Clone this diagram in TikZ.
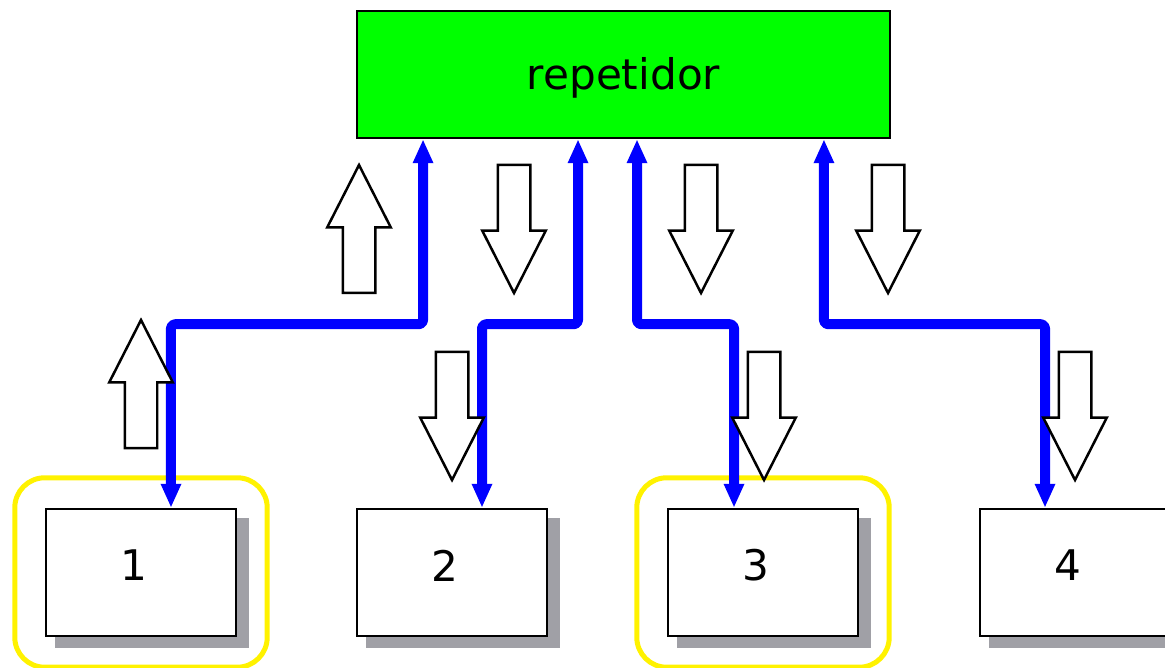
\documentclass[tikz,border=0pt]{standalone}
\usepackage{fontspec}
\setmainfont{DejaVu Sans}
\usetikzlibrary{arrows.meta,shapes.arrows,shadows,fit}
\definecolor{shadowgray}{RGB}{160,160,166}

\begin{document}
\begin{tikzpicture}[x=0.02cm, y=-0.02cm,
    every node/.style={font=\fontsize{24}{28}\selectfont},
    repbox/.style={draw, line width=0.05cm, fill=green, inner sep=0,
        minimum width=10.66cm, minimum height=2.54cm},
    station/.style={draw, line width=0.05cm, fill=white, inner sep=0,
        minimum width=3.8cm, minimum height=2.54cm,
        drop shadow={shadow xshift=0.21cm, shadow yshift=-0.21cm,
            shadow scale=1.02, fill=shadowgray, opacity=1}},
    numlbl/.style={xshift=-0.14cm, yshift=0.14cm},
    halo/.style={draw=yellow, line width=0.1cm, rounded corners=0.6cm, inner sep=0.6cm},
    link/.style={blue, line width=0.2cm, rounded corners=0.08cm, line join=round,
        <->, >={Triangle[length=0.48cm, width=0.38cm]}},
    flowup/.style={single arrow, draw, fill=white, line width=0.05cm,
        inner sep=0.3cm, outer sep=0, anchor=tail,
        minimum height=2.56cm, minimum width=1.22cm,
        single arrow head extend=0.31cm, single arrow tip angle=54,
        shape border rotate=90},
    flowdown/.style={flowup, shape border rotate=270}]
\useasboundingbox (0,0) rectangle (1165,668);

    % Repeater and stations
    \node[repbox] (rep) at (623.5,74.5) {\rule{0pt}{22pt}repetidor};
    \node[station, label={[numlbl]center:1}] (n1) at (141,572.5) {};
    \node[station, label={[numlbl]center:2}] (n2) at (452,572.5) {};
    \node[station, label={[numlbl]center:3}] (n3) at (763,572.5) {};
    \node[station, label={[numlbl]center:4}] (n4) at (1075,572.5) {};

    % Highlight rings
    \node[halo, fit=(n1)] (h1) {};
    \node[halo, fit=(n3)] (h3) {};

    % Links between repeater and stations
    \draw[link] ([xshift=-4.01cm]rep.south) -- ++(0,185) -| ([xshift=0.6cm]n1.north);
    \draw[link] ([xshift=-0.91cm]rep.south) -- ++(0,185) -| ([xshift=0.6cm]n2.north);
    \draw[link] ([xshift=0.27cm]rep.south) -- ++(0,185) -| ([xshift=-0.58cm]n3.north);
    \draw[link] ([xshift=4.01cm]rep.south) -- ++(0,185) -| ([xshift=-0.6cm]n4.north);

    % Direction of the traffic (placed by their tails)
    \node[flowup] (up1) at (359,293) {};
    \node[flowup] (up2) at (141,448) {};
    \node[flowdown] (dn1) at (514,165) {};
    \node[flowdown] (dn2) at (701,165) {};
    \node[flowdown] (dn3) at (888,165) {};
    \node[flowdown] (dn4) at (452,352) {};
    \node[flowdown] (dn5) at (764,352) {};
    \node[flowdown] (dn6) at (1075,352) {};
\end{tikzpicture}
\end{document}
